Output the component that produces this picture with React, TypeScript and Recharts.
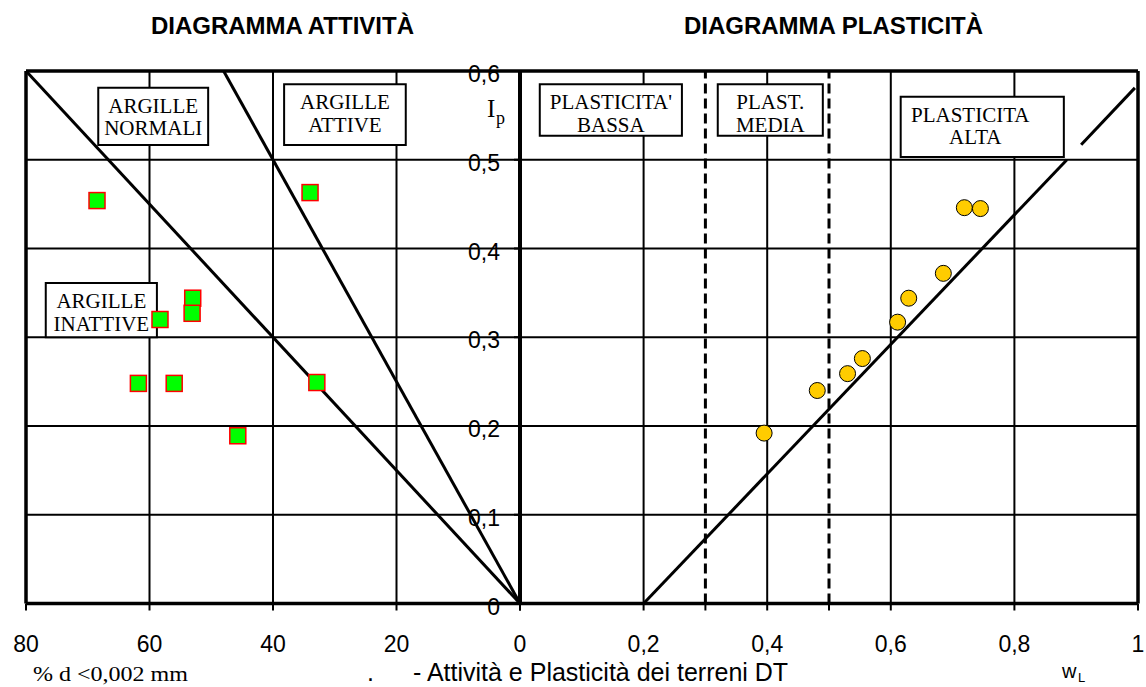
import React from 'react';
import {
  ScatterChart,
  Scatter,
  XAxis,
  YAxis,
  CartesianGrid,
  ReferenceLine,
  ReferenceArea,
} from 'recharts';

const W = 1146;
const H = 687;
const SANS = "'Liberation Sans', Arial, sans-serif";
const SERIF = "'Liberation Serif', 'Times New Roman', serif";

// diagramma attività: % d < 0,002 mm e indice di plasticità
const clayPct = [68.5, 34.0, 53.0, 53.1, 58.3, 61.8, 56.0, 32.9, 45.7];
const ipActivity = [0.454, 0.463, 0.344, 0.327, 0.32, 0.248, 0.248, 0.249, 0.189];

// diagramma plasticità: limite liquido e indice di plasticità
const wlValues = [0.719, 0.745, 0.685, 0.629, 0.611, 0.554, 0.53, 0.481, 0.395];
const ipPlasticity = [0.446, 0.445, 0.372, 0.344, 0.317, 0.276, 0.259, 0.24, 0.192];

const ipTicks = [0, 0.1, 0.2, 0.3, 0.4, 0.5, 0.6];
const ipGrid = [0.1, 0.2, 0.3, 0.4, 0.5];
const clayTicks = [0, 20, 40, 60, 80];
const wlTicks = [0, 0.2, 0.3, 0.4, 0.5, 0.6, 0.8, 1];
const wlGrid = [0.2, 0.4, 0.6, 0.8];
const wlLabelled = [0.2, 0.4, 0.6, 0.8, 1];
const wlLimits = [0.3, 0.5];

// rette A = 0,75 e A = 1,25
const activityLines = [
  [{ x: 80, y: 0.6 }, { x: 0, y: 0 }],
  [{ x: 48, y: 0.6 }, { x: 0, y: 0 }],
];
// linea A (interrotta poco sopra 0,5)
const aLine = [
  [{ x: 0.2, y: 0 }, { x: 0.885, y: 0.5 }],
  [{ x: 0.908, y: 0.517 }, { x: 0.995, y: 0.581 }],
];

const activityPoints = clayPct.map((x, i) => ({ x, y: ipActivity[i] }));
const plasticityPoints = wlValues.map((x, i) => ({ x, y: ipPlasticity[i] }));

// riquadri di testo (posizione in coordinate del grafico)
const activityBoxes = [
  { lines: ['ARGILLE', 'NORMALI'], x1: 68.3, x2: 50.5, y1: 0.5166, y2: 0.581, dx: [0, 0] },
  { lines: ['ARGILLE', 'ATTIVE'], x1: 38.2, x2: 18.5, y1: 0.5166, y2: 0.585, dx: [0, 0] },
  { lines: ['ARGILLE', 'INATTIVE'], x1: 76.8, x2: 58.8, y1: 0.3, y2: 0.361, dx: [0, 0] },
];
const plasticityBoxes = [
  { lines: ["PLASTICITA'", 'BASSA'], x1: 0.032, x2: 0.262, y1: 0.527, y2: 0.585, dx: [0, 0] },
  { lines: ['PLAST.', 'MEDIA'], x1: 0.32, x2: 0.49, y1: 0.527, y2: 0.585, dx: [0, 0] },
  { lines: ['PLASTICITA', 'ALTA'], x1: 0.616, x2: 0.88, y1: 0.503, y2: 0.571, dx: [-12, -7] },
];

const fmt = (v: number) => (v === 0 || v === 1 ? String(v) : v.toFixed(1).replace('.', ','));

const boxLabel = (lines: string[], dx: number[]) => (props: any) => {
  const { x, y, width } = props.viewBox;
  const cx = x + width / 2;
  return (
    <text fontFamily={SERIF} fontSize={21} fill="#000" textAnchor="middle">
      <tspan x={cx + dx[0]} y={y + 25}>{lines[0]}</tspan>
      <tspan x={cx + dx[1]} y={y + 47.5}>{lines[1]}</tspan>
    </text>
  );
};

const Square = (p: any) => (
  <rect x={p.cx - 8} y={p.cy - 8} width={16} height={16} fill="#00ff00" stroke="#ff0000" strokeWidth={1.5} />
);

const Dot = (p: any) => <circle cx={p.cx} cy={p.cy} r={8} fill="#ffcc00" stroke="#000" strokeWidth={1} />;

const ClayTick = (p: any) => (
  <text x={p.x} y={p.y} dy={33.5} textAnchor="middle" fontFamily={SANS} fontSize={23} fill="#000">
    {p.payload.value}
  </text>
);

const WlTick = (p: any) => {
  if (!wlLabelled.includes(p.payload.value)) return <g />;
  return (
    <text x={p.x} y={p.y} dy={33.5} textAnchor="middle" fontFamily={SANS} fontSize={23} fill="#000">
      {fmt(p.payload.value)}
    </text>
  );
};

const IpTick = (p: any) => (
  <text x={p.x} y={p.y} dy={11} textAnchor="end" fontFamily={SANS} fontSize={23} fill="#000">
    {fmt(p.payload.value)}
  </text>
);

const axisLine = { stroke: '#000', strokeWidth: 3.5 };
const tickLine = { stroke: '#000', strokeWidth: 2 };

const App: React.FC = () => {
  return (
    <div style={{ position: 'absolute', left: 0, top: 0, width: W, height: H, background: '#fff' }}>
      <div style={{ position: 'absolute', left: 0, top: 0 }}>
        <ScatterChart width={W} height={H} margin={{ top: 71, right: 626, bottom: 43.5, left: 26 }}>
          <CartesianGrid stroke="#000" strokeWidth={2} horizontalValues={ipGrid} verticalValues={[20, 40, 60]} />
          <XAxis
            type="number"
            dataKey="x"
            domain={[0, 80]}
            reversed
            ticks={clayTicks}
            interval={0}
            height={40}
            tickSize={7}
            tickMargin={8}
            axisLine={axisLine}
            tickLine={tickLine}
            tick={<ClayTick />}
          />
          <YAxis type="number" dataKey="y" domain={[0, 0.6]} ticks={ipTicks} hide />
          {activityBoxes.map((b) => (
            <ReferenceArea
              key={b.lines.join()}
              x1={b.x1}
              x2={b.x2}
              y1={b.y1}
              y2={b.y2}
              fill="#fff"
              fillOpacity={1}
              stroke="#000"
              strokeWidth={2}
              label={boxLabel(b.lines, b.dx)}
            />
          ))}
          {activityLines.map((seg, i) => (
            <ReferenceLine key={i} segment={seg} stroke="#000" strokeWidth={3} ifOverflow="visible" />
          ))}
          <ReferenceLine y={0.6} stroke="#000" strokeWidth={3.5} />
          <ReferenceLine x={80} stroke="#000" strokeWidth={3.5} />
          <Scatter data={activityPoints} shape={Square} isAnimationActive={false} />
        </ScatterChart>
      </div>
      <div style={{ position: 'absolute', left: 0, top: 0 }}>
        <ScatterChart width={W} height={H} margin={{ top: 71, right: 8, bottom: 43.5, left: 460 }}>
          <CartesianGrid stroke="#000" strokeWidth={2} horizontalValues={ipGrid} verticalValues={wlGrid} />
          <XAxis
            type="number"
            dataKey="x"
            domain={[0, 1]}
            ticks={wlTicks}
            interval={0}
            height={40}
            tickSize={7}
            tickMargin={8}
            axisLine={axisLine}
            tickLine={tickLine}
            tick={<WlTick />}
          />
          <YAxis
            type="number"
            dataKey="y"
            domain={[0, 0.6]}
            ticks={ipTicks}
            interval={0}
            width={60}
            tickSize={6}
            tickMargin={14}
            axisLine={{ stroke: '#000', strokeWidth: 4 }}
            tickLine={tickLine}
            tick={<IpTick />}
          />
          {plasticityBoxes.map((b) => (
            <ReferenceArea
              key={b.lines.join()}
              x1={b.x1}
              x2={b.x2}
              y1={b.y1}
              y2={b.y2}
              fill="#fff"
              fillOpacity={1}
              stroke="#000"
              strokeWidth={2}
              label={boxLabel(b.lines, b.dx)}
            />
          ))}
          {wlLimits.map((v) => (
            <ReferenceLine key={v} x={v} stroke="#000" strokeWidth={3} strokeDasharray="10 5" />
          ))}
          {aLine.map((seg, i) => (
            <ReferenceLine key={i} segment={seg} stroke="#000" strokeWidth={3} ifOverflow="visible" />
          ))}
          <ReferenceLine y={0.6} stroke="#000" strokeWidth={3.5} />
          <ReferenceLine x={1} stroke="#000" strokeWidth={3.5} />
          <Scatter data={plasticityPoints} shape={Dot} isAnimationActive={false} />
        </ScatterChart>
      </div>
      <svg
        width={W}
        height={H}
        style={{ position: 'absolute', left: 0, top: 0, pointerEvents: 'none' }}
      >
        <text x={282.5} y={34} textAnchor="middle" fontFamily={SANS} fontWeight="bold" fontSize={24} fill="#000">
          DIAGRAMMA ATTIVITÀ
        </text>
        <text x={833.5} y={34} textAnchor="middle" fontFamily={SANS} fontWeight="bold" fontSize={24} fill="#000">
          DIAGRAMMA PLASTICITÀ
        </text>
        <text x={487} y={117} fontFamily={SERIF} fontSize={25} fill="#000">I</text>
        <text x={496} y={124} fontFamily={SERIF} fontSize={18} fill="#000">p</text>
        <text
          x={33}
          y={681}
          fontFamily={SERIF}
          fontSize={20}
          fill="#000"
          textLength={155}
          lengthAdjust="spacingAndGlyphs"
        >
          % d &lt;0,002 mm
        </text>
        <text x={367} y={681} fontFamily={SANS} fontSize={25} fill="#000">.</text>
        <text x={413} y={681} fontFamily={SANS} fontSize={25} fill="#000">
          - Attività e Plasticità dei terreni DT
        </text>
        <text x={1062} y={678} fontFamily={SANS} fontSize={20} fill="#000">w</text>
        <text x={1078} y={682} fontFamily={SANS} fontSize={13} fill="#000">L</text>
      </svg>
    </div>
  );
};

export default App;
